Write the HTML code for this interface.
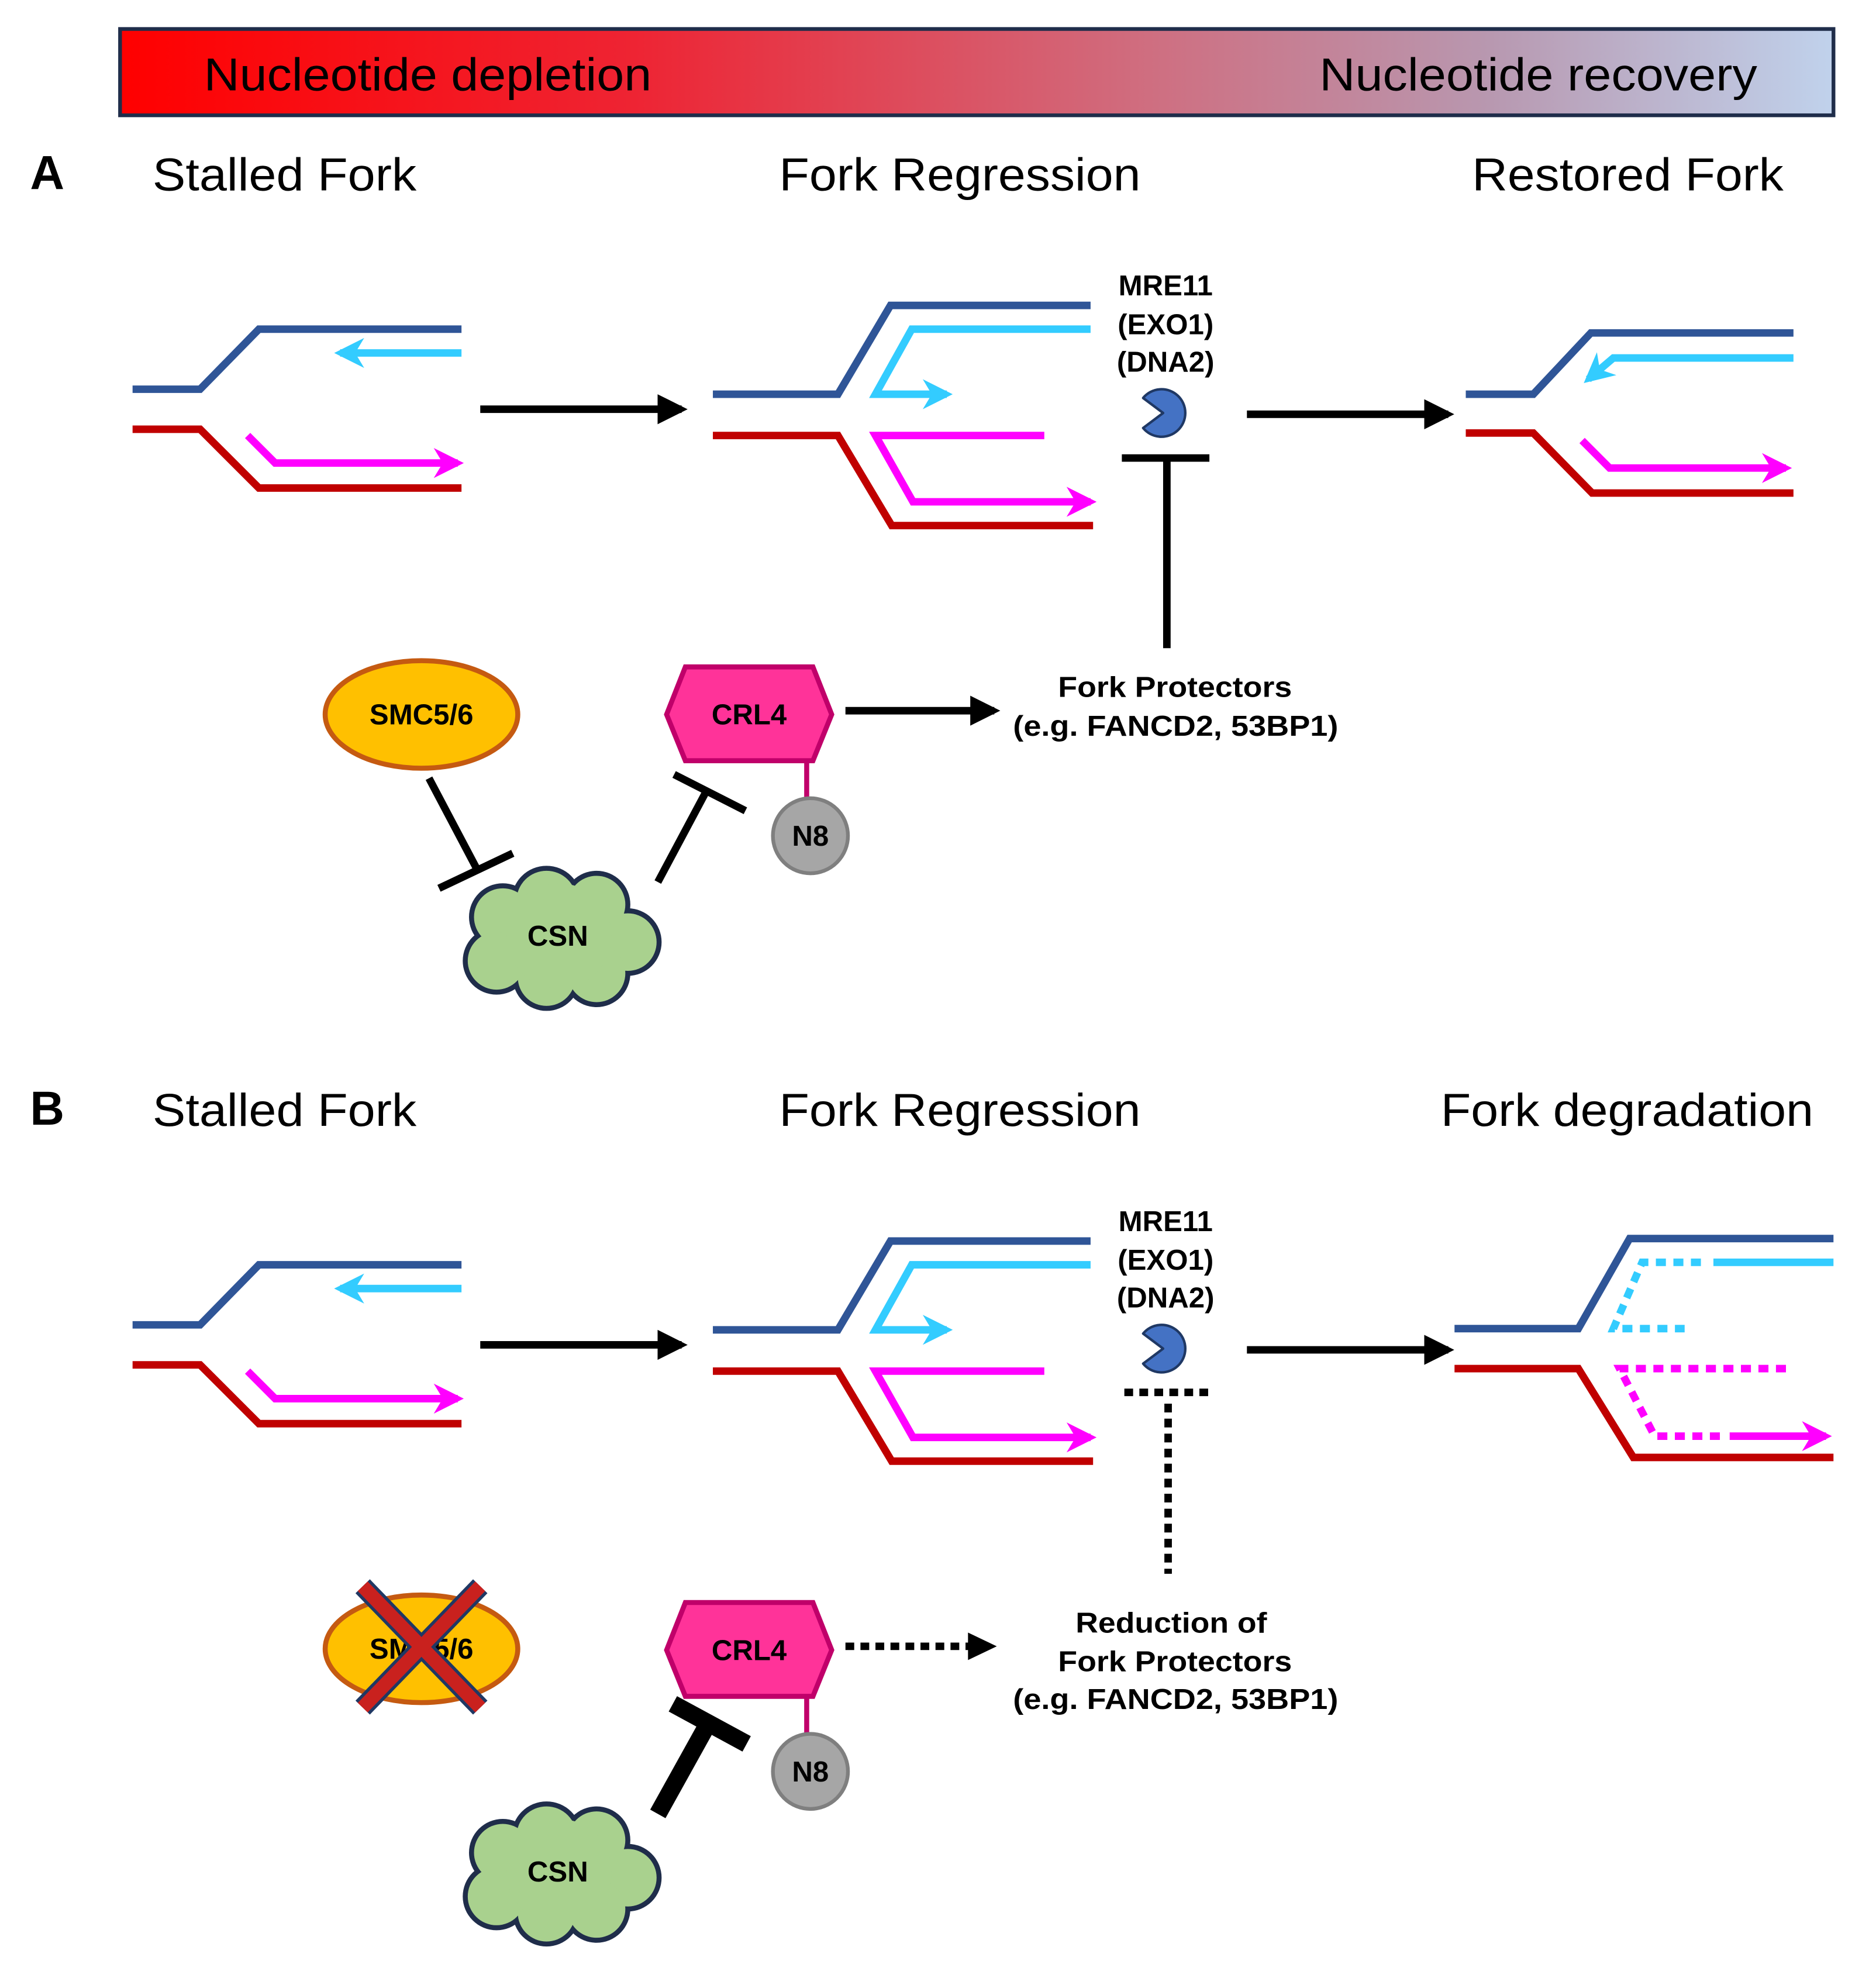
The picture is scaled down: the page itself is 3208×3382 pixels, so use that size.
<!DOCTYPE html>
<html><head><meta charset="utf-8"><style>html,body{margin:0;padding:0;background:#fff}svg{display:block}</style></head><body>
<svg width="3208" height="3382" viewBox="0 0 1500 1581" xmlns="http://www.w3.org/2000/svg" font-family="Liberation Sans, sans-serif">
<defs>
<linearGradient id="g" x1="0" x2="1" y1="0" y2="0">
<stop offset="0" stop-color="#ff0000"/><stop offset="0.3" stop-color="#ee2433"/><stop offset="0.6" stop-color="#cf6e80"/><stop offset="0.8" stop-color="#b898b0"/><stop offset="1" stop-color="#c0d2ec"/></linearGradient>
<marker id="ab" viewBox="0 0 10 10" refX="8" refY="5" markerWidth="4" markerHeight="4.5" orient="auto" markerUnits="strokeWidth"><path d="M0,0L10,5L0,10z" fill="#000"/></marker>
<marker id="ac" viewBox="0 0 10 10" refX="8" refY="5" markerWidth="4" markerHeight="4" orient="auto" markerUnits="strokeWidth"><path d="M0,0L10,5L0,10L3,5z" fill="#33ccff"/></marker>
<marker id="am" viewBox="0 0 10 10" refX="8" refY="5" markerWidth="4" markerHeight="4" orient="auto" markerUnits="strokeWidth"><path d="M0,0L10,5L0,10L3,5z" fill="#ff00ff"/></marker>
<g id="cloud">
<g fill="#1f2d4a"><circle cx="-45" cy="-15" r="27"/><circle cx="-10" cy="-28" r="28"/><circle cx="30" cy="-25" r="27"/><circle cx="55" cy="5" r="27"/><circle cx="30" cy="30" r="27"/><circle cx="-10" cy="33" r="27"/><circle cx="-50" cy="20" r="27"/><circle cx="0" cy="0" r="40"/></g>
<g fill="#a9d18e"><circle cx="-45" cy="-15" r="23"/><circle cx="-10" cy="-28" r="24"/><circle cx="30" cy="-25" r="23"/><circle cx="55" cy="5" r="23"/><circle cx="30" cy="30" r="23"/><circle cx="-10" cy="33" r="23"/><circle cx="-50" cy="20" r="23"/><circle cx="0" cy="0" r="42"/></g>
</g>
<g id="pac"><path d="M930,330 L914,318 A19,19 0 1 1 914,342 Z" fill="#4472c4" stroke="#1f3864" stroke-width="2" stroke-linejoin="round"/></g>
</defs>
<rect x="96" y="23" width="1370" height="69" fill="url(#g)" stroke="#1f2d4a" stroke-width="3"/>
<text x="163" y="72" font-size="37" textLength="358" lengthAdjust="spacingAndGlyphs">Nucleotide depletion</text>
<text x="1055" y="72" font-size="37" textLength="350" lengthAdjust="spacingAndGlyphs">Nucleotide recovery</text>

<g id="secA">
<text x="24" y="151" font-size="38" font-weight="bold">A</text>
<text x="122" y="152" font-size="37" textLength="211" lengthAdjust="spacingAndGlyphs">Stalled Fork</text>
<text x="623" y="152" font-size="37" textLength="289" lengthAdjust="spacingAndGlyphs">Fork Regression</text>
<g fill="none" stroke-width="6">
<polyline points="106,311 160,311 207,263 369,263" stroke="#2f5597"/>
<line x1="369" y1="282" x2="272" y2="282" stroke="#33ccff" marker-end="url(#ac)"/>
<polyline points="106,343 160,343 207,390 369,390" stroke="#c00000"/>
<polyline points="198,348 220,370 366,370" stroke="#ff00ff" marker-end="url(#am)"/>
<line x1="384" y1="327" x2="545" y2="327" stroke="#000" marker-end="url(#ab)"/>
<polyline points="570,315 670,315 712,244 872,244" stroke="#2f5597"/>
<polyline points="872,263 729,263 700,315 757,315" stroke="#33ccff" marker-end="url(#ac)"/>
<polyline points="570,348 670,348 713,420 874,420" stroke="#c00000"/>
<polyline points="835,348 700,348 730,401 872,401" stroke="#ff00ff" marker-end="url(#am)"/>
<line x1="997" y1="331" x2="1158" y2="331" stroke="#000" marker-end="url(#ab)"/>
</g>
<g font-size="23" font-weight="bold" text-anchor="middle"><text x="932" y="236">MRE11</text><text x="932" y="267">(EXO1)</text><text x="932" y="297">(DNA2)</text></g>
<use href="#pac"/>
<path d="M533,571 L548,533 L650,533 L665,571 L650,608 L548,608 Z" fill="#ff3399" stroke="#c0006a" stroke-width="4"/>
<text x="599" y="579" font-size="23" font-weight="bold" text-anchor="middle">CRL4</text>
<line x1="645" y1="608" x2="645" y2="640" stroke="#c0006a" stroke-width="4"/>
<circle cx="648" cy="668" r="30" fill="#a6a6a6" stroke="#7f7f7f" stroke-width="3"/>
<text x="648" y="676" font-size="23" font-weight="bold" text-anchor="middle">N8</text>
<use href="#cloud" transform="translate(447,748)"/>
<text x="446" y="756" font-size="23" font-weight="bold" text-anchor="middle">CSN</text>
</g>

<g fill="none" stroke="#000" stroke-width="6">
<line x1="897" y1="366" x2="967" y2="366"/><line x1="933" y1="366" x2="933" y2="518"/>
<line x1="676" y1="568" x2="795" y2="568" marker-end="url(#ab)"/>
<line x1="343" y1="622" x2="381" y2="694"/><line x1="351" y1="710" x2="410" y2="682"/>
<line x1="526" y1="705" x2="566" y2="630"/><line x1="539" y1="619" x2="596" y2="648"/>
<polyline points="1172,315 1226,315 1272,266 1434,266" stroke="#2f5597"/>
<polyline points="1434,286 1290,286 1270,303" stroke="#33ccff" marker-end="url(#ac)"/>
<polyline points="1172,346 1226,346 1273,394 1434,394" stroke="#c00000"/>
<polyline points="1265,352 1287,374 1428,374" stroke="#ff00ff" marker-end="url(#am)"/>
</g>
<text x="1177" y="152" font-size="37" textLength="249" lengthAdjust="spacingAndGlyphs">Restored Fork</text>
<ellipse cx="337" cy="571" rx="77" ry="43" fill="#ffc000" stroke="#c55a11" stroke-width="4"/>
<text x="337" y="579" font-size="23" font-weight="bold" text-anchor="middle">SMC5/6</text>
<g font-size="23" font-weight="bold"><text x="846" y="557" textLength="187" lengthAdjust="spacingAndGlyphs">Fork Protectors</text><text x="810" y="588" textLength="260" lengthAdjust="spacingAndGlyphs">(e.g. FANCD2, 53BP1)</text></g>

<use href="#secA" transform="translate(0,748)"/>
<rect x="20" y="860" width="40" height="40" fill="#fff"/>
<text x="24" y="899" font-size="38" font-weight="bold">B</text>
<g fill="none" stroke="#000" stroke-width="6" stroke-dasharray="7,5">
<line x1="899" y1="1113" x2="970" y2="1113"/><line x1="934" y1="1122" x2="934" y2="1258"/>
<line x1="676" y1="1316" x2="775" y2="1316"/>
</g>
<path d="M774,1305 L797,1316 L774,1327 Z" fill="#000"/>
<g stroke="#000" stroke-width="14"><line x1="526" y1="1450" x2="566" y2="1378"/><line x1="538" y1="1362" x2="597" y2="1394"/></g>
<ellipse cx="337" cy="1318" rx="77" ry="43" fill="#ffc000" stroke="#c55a11" stroke-width="4"/>
<text x="337" y="1326" font-size="23" font-weight="bold" text-anchor="middle">SMC5/6</text>
<g stroke="#1f3864" stroke-width="16"><line x1="290" y1="1268" x2="384" y2="1365"/><line x1="384" y1="1268" x2="290" y2="1365"/></g>
<g stroke="#c9211e" stroke-width="11"><line x1="290" y1="1268" x2="384" y2="1365"/><line x1="384" y1="1268" x2="290" y2="1365"/></g>
<g font-size="23" font-weight="bold"><text x="860" y="1305" textLength="153" lengthAdjust="spacingAndGlyphs">Reduction of</text><text x="846" y="1336" textLength="187" lengthAdjust="spacingAndGlyphs">Fork Protectors</text><text x="810" y="1366" textLength="260" lengthAdjust="spacingAndGlyphs">(e.g. FANCD2, 53BP1)</text></g>
<text x="1152" y="900" font-size="37" textLength="298" lengthAdjust="spacingAndGlyphs">Fork degradation</text>
<g fill="none" stroke-width="6">
<polyline points="1163,1062 1262,1062 1303,990 1466,990" stroke="#2f5597"/>
<line x1="1370" y1="1009" x2="1466" y2="1009" stroke="#33ccff"/>
<polyline points="1360,1009 1313,1009 1290,1062 1347,1062" stroke="#33ccff" stroke-dasharray="8,6"/>
<polyline points="1163,1094 1262,1094 1306,1165 1466,1165" stroke="#c00000"/>
<polyline points="1428,1094 1295,1094 1323,1148 1380,1148" stroke="#ff00ff" stroke-dasharray="8,6"/>
<line x1="1383" y1="1148" x2="1460" y2="1148" stroke="#ff00ff" marker-end="url(#am)"/>
</g>
</svg>
</body></html>
